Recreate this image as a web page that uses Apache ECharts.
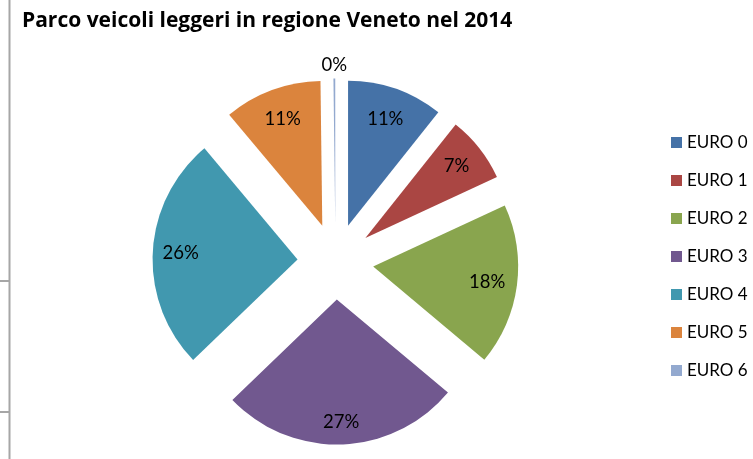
<!DOCTYPE html>
<html>
<head>
<meta charset="utf-8">
<title>Parco veicoli leggeri in regione Veneto nel 2014</title>
<script src="https://cdn.jsdelivr.net/npm/echarts@6/dist/echarts.min.js"></script>
<style>
  html, body { margin: 0; padding: 0; background: #ffffff; }
  #chart { width: 753px; height: 459px; }
</style>
</head>
<body>
<div id="chart"></div>
<script>
// Quota del parco veicoli leggeri per classe Euro (Veneto, 2014), in %
const categories = ['EURO 0', 'EURO 1', 'EURO 2', 'EURO 3', 'EURO 4', 'EURO 5', 'EURO 6'];
const shares = [10.7, 7.4, 18.0, 26.7, 26.1, 10.9, 0.2];
const titleText = 'Parco veicoli leggeri in regione Veneto nel 2014';

// Styling / layout
const colors = ['#4572A7', '#AA4643', '#89A54E', '#71588F', '#4198AF', '#DB843D', '#93A9CF'];
const pieCenter = [335.5, 261.5];
const pieRadius = 145;
const explode = 38;
// distance of each percentage label from the pie centre
const labelRadius = [151, 154, 153, 161, 155, 152, 196];
const fontFamily = 'Lato, "Liberation Sans", sans-serif';

const total = shares.reduce((a, b) => a + b, 0);
// mid angle of each slice, clockwise from 12 o'clock
const midAngles = [];
{
  let acc = 0;
  shares.forEach(v => {
    midAngles.push((acc + v / 2) / total * 2 * Math.PI);
    acc += v;
  });
}

const pctLabel = p => Math.round(p.percent) + '%';

const chart = echarts.init(document.getElementById('chart'), null, { renderer: 'canvas' });

chart.setOption({
  animation: false,
  color: colors,
  title: {
    text: titleText,
    left: 22,
    top: 11,
    padding: 0,
    textStyle: { fontFamily: '"Open Sans", Lato, sans-serif', fontWeight: 'bold', fontSize: 21, color: '#000000' }
  },
  legend: {
    orient: 'vertical',
    left: 671,
    top: 134,
    padding: 0,
    itemWidth: 11,
    itemHeight: 11,
    itemGap: 21,
    icon: 'rect',
    selectedMode: false,
    textStyle: { fontFamily, fontSize: 17, color: '#000000', lineHeight: 17 },
    data: categories
  },
  graphic: [
    { type: 'line', shape: { x1: 9.5, y1: 0, x2: 9.5, y2: 459 }, style: { stroke: '#a6a6a6', lineWidth: 2 } },
    { type: 'line', shape: { x1: 0, y1: 281, x2: 9, y2: 281 }, style: { stroke: '#a6a6a6', lineWidth: 2 } },
    { type: 'line', shape: { x1: 0, y1: 412, x2: 9, y2: 412 }, style: { stroke: '#a6a6a6', lineWidth: 2 } }
  ],
  series: [
    {
      // exploded slices
      type: 'pie',
      name: 'Parco veicoli',
      z: 2,
      center: pieCenter,
      radius: pieRadius,
      startAngle: 90,
      clockwise: true,
      selectedMode: 'multiple',
      selectedOffset: explode,
      emphasis: { scale: false },
      itemStyle: { borderWidth: 0 },
      label: { show: false },
      labelLine: { show: false },
      data: categories.map((name, i) => ({ name, value: shares[i], selected: true }))
    },
    {
      // percentage labels, carried by a transparent ring over the same data
      type: 'pie',
      name: 'Etichette',
      z: 10,
      center: pieCenter,
      radius: [140, 156],
      startAngle: 90,
      clockwise: true,
      silent: true,
      selectedMode: false,
      avoidLabelOverlap: false,
      emphasis: { disabled: true },
      tooltip: { show: false },
      itemStyle: { color: 'rgba(0,0,0,0)', borderWidth: 0 },
      label: {
        show: true,
        position: 'inside',
        fontFamily,
        fontSize: 18.5,
        color: '#000000',
        formatter: pctLabel
      },
      labelLine: { show: false },
      labelLayout: p => {
        const a = midAngles[p.dataIndex];
        const rr = labelRadius[p.dataIndex];
        return {
          x: pieCenter[0] + rr * Math.sin(a),
          y: pieCenter[1] - rr * Math.cos(a),
          align: 'center',
          verticalAlign: 'middle'
        };
      },
      data: categories.map((name, i) => ({ name, value: shares[i] }))
    }
  ]
});
</script>
</body>
</html>
